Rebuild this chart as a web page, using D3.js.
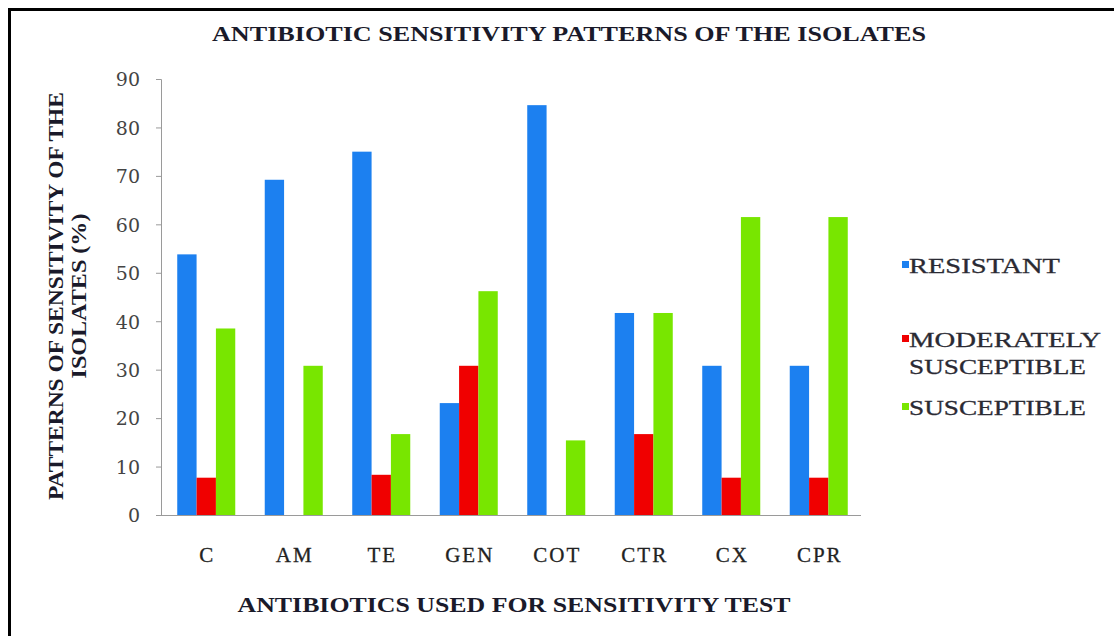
<!DOCTYPE html>
<html>
<head>
<meta charset="utf-8">
<script src="https://cdn.jsdelivr.net/npm/d3@7"></script>
<style>
  html, body { margin: 0; padding: 0; background: #fff; }
  svg { display: block; }
</style>
</head>
<body>
<svg id="chart" width="1114" height="636"></svg>
<script>
// ---- data ----
const categories = ["C", "AM", "TE", "GEN", "COT", "CTR", "CX", "CPR"];
const seriesNames = ["RESISTANT", "MODERATELY SUSCEPTIBLE", "SUSCEPTIBLE"];
const resistant   = [53.8, 69.2, 75.0, 23.1, 84.6, 41.7, 30.8, 30.8];
const moderately  = [7.7, 0, 8.3, 30.8, 0, 16.7, 7.7, 7.7];
const susceptible = [38.5, 30.8, 16.7, 46.2, 15.4, 41.7, 61.5, 61.5];
const yTicks = [0, 10, 20, 30, 40, 50, 60, 70, 80, 90];
const titleText = "ANTIBIOTIC SENSITIVITY PATTERNS OF THE ISOLATES";
const xTitle = "ANTIBIOTICS USED FOR SENSITIVITY TEST";
const yTitleLines = ["PATTERNS OF SENSITIVITY OF THE", "ISOLATES (%)"];

const colors = ["#1c80f0", "#f00000", "#78e600"];
const seriesValues = [resistant, moderately, susceptible];

const svg = d3.select("#chart");

// frame (top + left lines)
svg.append("line").attr("x1", 8).attr("x2", 1114).attr("y1", 9.5).attr("y2", 9.5)
  .attr("stroke", "#000").attr("stroke-width", 3);
svg.append("line").attr("x1", 9.5).attr("x2", 9.5).attr("y1", 8).attr("y2", 636)
  .attr("stroke", "#000").attr("stroke-width", 3);

const plotL = 161, plotR = 861, plotT = 79, plotB = 515;

const x0 = d3.scaleBand().domain(categories).range([plotL + 1.5, plotR + 1.5])
  .paddingInner(0.337).paddingOuter(0.1685);
const x1 = d3.scaleBand().domain(d3.range(seriesNames.length)).range([0, x0.bandwidth()]);
const y = d3.scaleLinear().domain([0, 90]).range([plotB, plotT]);

// bars
const groups = svg.append("g").selectAll("g").data(categories).join("g")
  .attr("transform", d => `translate(${x0(d)},0)`);
groups.selectAll("rect")
  .data((d, i) => seriesValues.map((s, k) => ({ k, v: s[i] })))
  .join("rect")
  .attr("x", d => x1(d.k))
  .attr("width", x1.bandwidth())
  .attr("y", d => y(d.v))
  .attr("height", d => y(0) - y(d.v))
  .attr("fill", d => colors[d.k]);

// y axis
const yAxis = svg.append("g").attr("transform", `translate(${plotL},0)`)
  .call(d3.axisLeft(y).tickValues(yTicks).tickSize(5).tickPadding(16).tickFormat(d3.format("d")));
yAxis.select(".domain").attr("stroke", "#9a9a9a");
yAxis.selectAll(".tick line").attr("stroke", "#9a9a9a");
yAxis.selectAll("text").attr("font-family", "DejaVu Serif").attr("font-size", 19)
  .attr("fill", "#444").attr("dy", "0.36em");

// x axis
const xAxis = svg.append("g").attr("transform", `translate(0,${plotB})`)
  .call(d3.axisBottom(x0).tickSize(0).tickPadding(0));
xAxis.select(".domain").attr("stroke", "#9a9a9a").attr("d", `M${plotL},0.5H${plotR}`);
xAxis.selectAll(".tick text")
  .attr("font-family", "Liberation Serif").attr("font-size", 21).attr("fill", "#222")
  .attr("stroke", "#222").attr("stroke-width", 0.3)
  .attr("dy", 0).attr("y", 47)
  .attr("letter-spacing", 2).attr("dx", 1);

// title
svg.append("text").attr("x", 569).attr("y", 41).attr("text-anchor", "middle")
  .attr("font-family", "Liberation Serif").attr("font-weight", "bold").attr("font-size", 21)
  .attr("fill", "#1a1a2a")
  .attr("textLength", 714).attr("lengthAdjust", "spacingAndGlyphs")
  .text(titleText);

// x title
svg.append("text").attr("x", 514).attr("y", 612).attr("text-anchor", "middle")
  .attr("font-family", "Liberation Serif").attr("font-weight", "bold").attr("font-size", 21)
  .attr("fill", "#1a1a2a")
  .attr("textLength", 553).attr("lengthAdjust", "spacingAndGlyphs")
  .text(xTitle);

// y title (two lines)
const yTitleX = [63, 86];
const yTitleLen = [408, 165];
yTitleLines.forEach((t, i) => {
  svg.append("text")
    .attr("transform", `translate(${yTitleX[i]},296) rotate(-90)`)
    .attr("text-anchor", "middle")
    .attr("font-family", "Liberation Serif").attr("font-weight", "bold").attr("font-size", 20)
    .attr("fill", "#1a1a2a")
    .attr("textLength", yTitleLen[i]).attr("lengthAdjust", "spacingAndGlyphs")
    .text(t);
});

// legend
const legendItems = [
  { k: 0, lines: ["RESISTANT"], base: [273], len: [151] },
  { k: 1, lines: ["MODERATELY", "SUSCEPTIBLE"], base: [347, 374], len: [192, 177] },
  { k: 2, lines: ["SUSCEPTIBLE"], base: [415], len: [177] }
];
const lg = svg.append("g");
legendItems.forEach(it => {
  lg.append("rect").attr("x", 902).attr("y", it.base[0] - 12).attr("width", 7).attr("height", 7)
    .attr("fill", colors[it.k]);
  it.lines.forEach((l, j) => {
    lg.append("text").attr("x", 909).attr("y", it.base[j])
      .attr("font-family", "Liberation Serif").attr("font-size", 22).attr("fill", "#2a2a33")
      .attr("stroke", "#2a2a33").attr("stroke-width", 0.3)
      .attr("textLength", it.len[j]).attr("lengthAdjust", "spacingAndGlyphs")
      .text(l);
  });
});
</script>
</body>
</html>
